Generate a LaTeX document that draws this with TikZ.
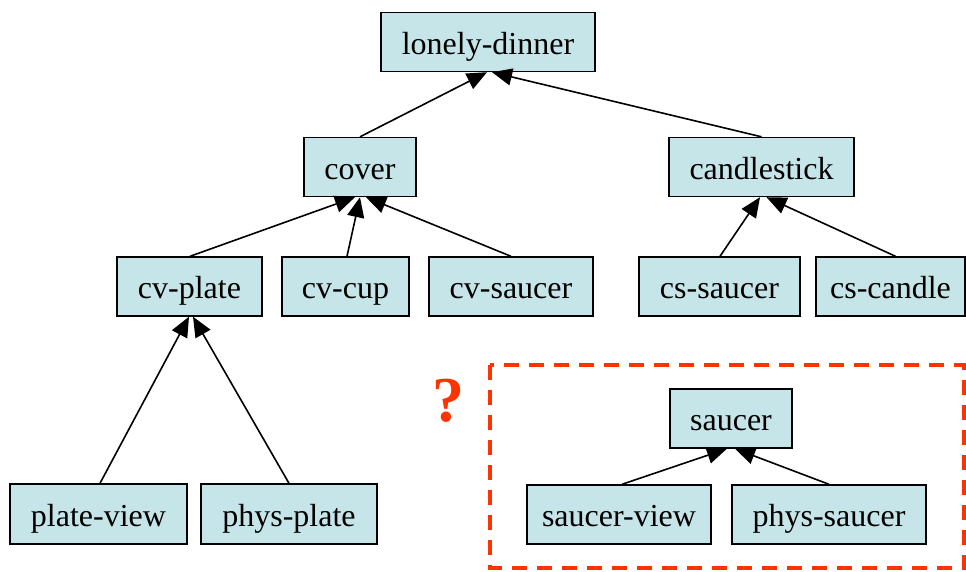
\documentclass[tikz,border=0pt]{standalone}
\usepackage{fontspec}
\setmainfont{Liberation Serif}
\usetikzlibrary{arrows.meta}
\definecolor{boxfill}{RGB}{198,229,232}
\definecolor{qred}{RGB}{255,51,0}
\begin{document}
\begin{tikzpicture}[x=1pt,y=-1pt,
  box/.style={draw=black, fill=boxfill, line width=1.4pt, minimum height=59pt, inner sep=0pt, text height=29pt, text depth=5pt, font=\fontsize{32}{36}\selectfont},
  edge/.style={line width=1.6pt, -{Triangle[length=20pt,width=17pt]}},
  dashbox/.style={draw=qred, line width=4pt, dash pattern=on 15pt off 10pt}]
\useasboundingbox (0,0) rectangle (966,571);
% nodes
\node[box, minimum width=214pt] (lonely) at (488,42) {lonely-dinner};
\node[box, minimum width=112pt] (cover) at (360,167) {cover};
\node[box, minimum width=185pt] (candle) at (761.5,167) {candlestick};
\node[box, minimum width=145pt] (cvplate) at (189.5,286.5) {cv-plate};
\node[box, minimum width=127pt] (cvcup) at (345.5,286.5) {cv-cup};
\node[box, minimum width=164pt] (cvsaucer) at (511,286.5) {cv-saucer};
\node[box, minimum width=161pt] (cssaucer) at (719.5,286.5) {cs-saucer};
\node[box, minimum width=149pt] (cscandle) at (890.5,286.5) {cs-candle};
\node[box, minimum width=177pt, minimum height=60pt] (plateview) at (98.5,514) {plate-view};
\node[box, minimum width=176pt, minimum height=60pt] (physplate) at (289,514) {phys-plate};
\node[box, minimum width=122pt] (saucer) at (731,418.5) {saucer};
\node[box, minimum width=184pt] (saucerview) at (619,514.5) {saucer-view};
\node[box, minimum width=194pt] (physsaucer) at (829,514.5) {phys-saucer};
% question mark
\node[text=qred, font=\fontsize{64}{70}\selectfont\bfseries, inner sep=0pt] (q) at (448,401) {?};
% dashed group
\draw[dashbox] (490,365) rectangle (964,568);
% edges
\draw[edge] (cover.north) -- ([xshift=-1pt]lonely.south);
\draw[edge] (candle.north) -- ([xshift=4pt]lonely.south);
\draw[edge] ([xshift=0.5pt]cvplate.north) -- ([xshift=-5pt]cover.south);
\draw[edge] ([xshift=1.5pt]cvcup.north) -- (cover.south);
\draw[edge] (cvsaucer.north) -- ([xshift=6pt]cover.south);
\draw[edge] ([xshift=0.5pt]cssaucer.north) -- ([xshift=-1.5pt]candle.south);
\draw[edge] ([xshift=5pt]cscandle.north) -- ([xshift=5pt]candle.south);
\draw[edge] ([xshift=1.5pt]plateview.north) -- ([xshift=-0.5pt]cvplate.south);
\draw[edge] (physplate.north) -- ([xshift=3.5pt]cvplate.south);
\draw[edge] ([xshift=3pt]saucerview.north) -- ([xshift=-4pt]saucer.south);
\draw[edge] (physsaucer.north) -- ([xshift=4pt]saucer.south);
\end{tikzpicture}
\end{document}
